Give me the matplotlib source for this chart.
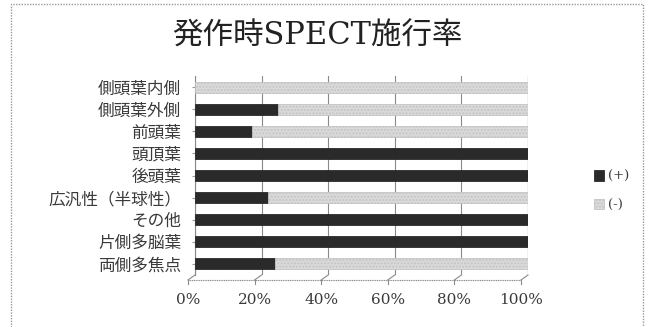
import numpy as np
import matplotlib.pyplot as plt
from matplotlib.transforms import ScaledTranslation, blended_transform_factory
from matplotlib.patches import Rectangle

plt.rcParams['font.family'] = ['DejaVu Serif', 'Noto Sans CJK JP']
plt.rcParams['hatch.color'] = '#c8c8c8'

categories = ['側頭葉内側', '側頭葉外側', '前頭葉', '頭頂葉', '後頭葉',
              '広汎性（半球性）', 'その他', '片側多脳葉', '両側多焦点']
positive = [0, 25, 17, 100, 100, 22, 100, 100, 24]   # (+) %
negative = [100 - p for p in positive]               # (-) %
xticks = [0, 20, 40, 60, 80, 100]
xticklabels = ['0%', '20%', '40%', '60%', '80%', '100%']

DARK = '#2a2a2a'
LIGHT = '#dadada'
TEXT = '#3a3a3a'

fig = plt.figure(figsize=(6.48, 3.27), dpi=100)
fig.patch.set_facecolor('white')

# outer chart frame
fig.patches.append(Rectangle((11 / 648, -0.01), 632 / 648, 1 - 4 / 327 + 0.01,
                             transform=fig.transFigure, fill=False,
                             edgecolor='#9a9a9a', lw=1.0, ls=(0, (1, 1))))

fig.text(0.49, 0.89, '発作時SPECT施行率', ha='center', va='center',
         fontsize=22, color='#222222')

ax = fig.add_axes([195 / 648, 1 - 275 / 327, 333 / 648, 199 / 327])
y = np.arange(len(categories))
ax.barh(y, positive, height=0.5, color=DARK, edgecolor=DARK, lw=0.6, label='(+)', zorder=3)
ax.barh(y, negative, left=positive, height=0.5, color=LIGHT, edgecolor='#c4c4c4',
        lw=0.6, hatch='.....', label='(-)', zorder=3)

ax.set_xlim(0, 100)
ax.set_ylim(len(categories) - 0.5, -0.5)
ax.set_yticks(y)
ax.set_yticklabels(categories, fontsize=12, color=TEXT)
ax.tick_params(axis='y', length=2, pad=8, color='#999999')

ax.set_xticks(xticks)
ax.set_xticklabels(xticklabels, fontsize=11, color=TEXT)
ax.tick_params(axis='x', length=0, pad=13)
offset = ScaledTranslation(-7 / 100, 0, fig.dpi_scale_trans)
for lbl in ax.get_xticklabels():
    lbl.set_transform(lbl.get_transform() + offset)

ax.grid(axis='x', color='#8a8a8a', lw=0.8, zorder=0)
for s in ['top', 'right', 'bottom']:
    ax.spines[s].set_visible(False)
ax.spines['left'].set_color('#8a8a8a')
ax.spines['left'].set_linewidth(0.8)

# floor edge in front of the back wall
bt = blended_transform_factory(ax.transData, ax.transAxes)
dx, dy = 2.1, 0.025
ax.plot([0 - dx, 100 - dx], [-dy, -dy], transform=bt, color='#8a8a8a',
        lw=0.8, ls=(0, (1, 0.6)), clip_on=False)
for t in xticks:
    ax.plot([t, t - dx], [0, -dy], transform=bt, color='#8a8a8a', lw=0.8, clip_on=False)
    ax.plot([t - dx, t - dx], [-dy, -dy - 0.02], transform=bt, color='#8a8a8a',
            lw=0.8, clip_on=False)
ax.plot([100, 100], [0, 1], transform=bt, color='#8a8a8a', lw=0.8)

fig.legend(loc='center left', bbox_to_anchor=(582 / 648, 1 - 191 / 327),
           frameon=False, fontsize=9.5, handlelength=0.8, handleheight=0.8,
           handletextpad=0.3, labelspacing=1.2, labelcolor=TEXT)

fig.savefig('out.png', dpi=100)
